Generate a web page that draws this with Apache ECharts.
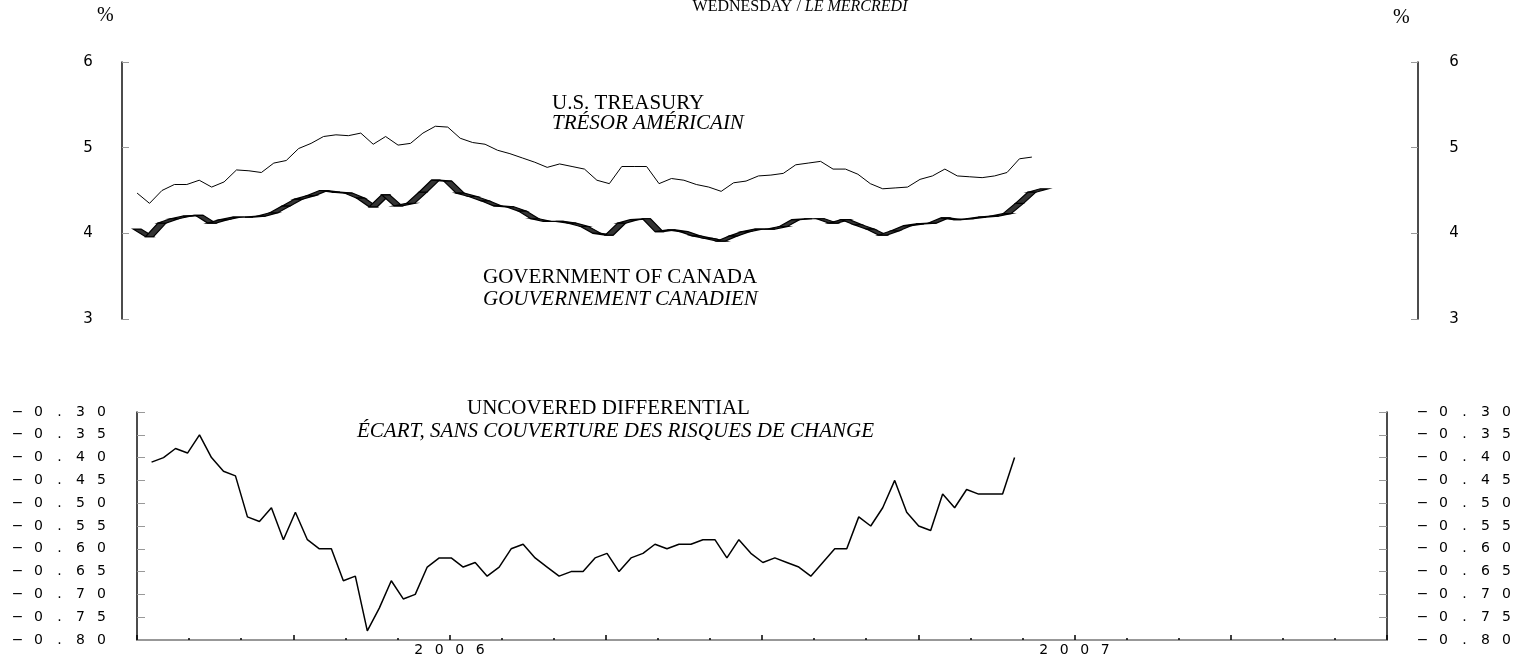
<!DOCTYPE html>
<html>
<head>
<meta charset="utf-8">
<title>U.S. Treasury / Government of Canada - Wednesday</title>
<script src="https://cdn.jsdelivr.net/npm/echarts@6/dist/echarts.min.js"></script>
<style>
  html, body { margin: 0; padding: 0; background: #fff; }
  #chart { width: 1534px; height: 657px; }
</style>
</head>
<body>
<div id="chart"></div>
<script>
  // weekly observations
  const firstWeek = '2005-07-11';

  const usTreasury = [4.47, 4.35, 4.50, 4.57, 4.57, 4.62, 4.54, 4.60, 4.74, 4.73,
    4.71, 4.82, 4.85, 4.99, 5.05, 5.13, 5.15, 5.14, 5.17, 5.04,
    5.13, 5.03, 5.05, 5.17, 5.25, 5.24, 5.11, 5.06, 5.04, 4.97,
    4.93, 4.88, 4.83, 4.77, 4.81, 4.78, 4.75, 4.62, 4.58, 4.78,
    4.78, 4.78, 4.58, 4.64, 4.62, 4.57, 4.54, 4.49, 4.59, 4.61,
    4.67, 4.68, 4.70, 4.80, 4.82, 4.84, 4.75, 4.75, 4.69, 4.58,
    4.52, 4.53, 4.54, 4.63, 4.67, 4.75, 4.67, 4.66, 4.65, 4.67,
    4.71, 4.87, 4.89];

  const govCanada = [4.05, 3.96, 4.12, 4.17, 4.20, 4.21, 4.12, 4.16, 4.19, 4.19,
    4.20, 4.24, 4.32, 4.40, 4.44, 4.50, 4.48, 4.47, 4.41, 4.31,
    4.45, 4.32, 4.35, 4.48, 4.62, 4.61, 4.47, 4.43, 4.38, 4.32,
    4.31, 4.26, 4.17, 4.14, 4.14, 4.12, 4.08, 4.00, 3.98, 4.12,
    4.16, 4.17, 4.02, 4.04, 4.02, 3.97, 3.94, 3.91, 3.97, 4.02,
    4.05, 4.05, 4.08, 4.16, 4.17, 4.17, 4.12, 4.16, 4.10, 4.05,
    3.98, 4.03, 4.09, 4.11, 4.12, 4.18, 4.16, 4.17, 4.19, 4.20,
    4.23, 4.35, 4.48, 4.52];

  const uncoveredDiff = [-0.41, -0.40, -0.38, -0.39, -0.35, -0.40, -0.43, -0.44, -0.53, -0.54,
    -0.51, -0.58, -0.52, -0.58, -0.60, -0.60, -0.67, -0.66, -0.78, -0.73,
    -0.67, -0.71, -0.70, -0.64, -0.62, -0.62, -0.64, -0.63, -0.66, -0.64,
    -0.60, -0.59, -0.62, -0.64, -0.66, -0.65, -0.65, -0.62, -0.61, -0.65,
    -0.62, -0.61, -0.59, -0.60, -0.59, -0.59, -0.58, -0.58, -0.62, -0.58,
    -0.61, -0.63, -0.62, -0.63, -0.64, -0.66, -0.63, -0.60, -0.60, -0.53,
    -0.55, -0.51, -0.45, -0.52, -0.55, -0.56, -0.48, -0.51, -0.47, -0.48,
    -0.48, -0.48, -0.40];

  const yearLabels = ['2006', '2007'];

  // week i -> decimal year
  function weekX(i) {
    const d = Date.parse(firstWeek) + i * 7 * 864e5;
    const y = new Date(d).getUTCFullYear();
    const s = Date.UTC(y, 0, 1), e = Date.UTC(y + 1, 0, 1);
    return y + (d - s) / (e - s);
  }

  // plotter look: every character in its own wide box
  function spaced(txt) {
    return txt.split('').map(c => '{c|' + c + '}').join('');
  }
  const wide = { c: { width: 21, align: 'center', fontSize: 14, fontFamily: 'DejaVu Sans', color: '#000' } };
  const wideX = { c: { width: 20.5, align: 'center', fontSize: 14, fontFamily: 'DejaVu Sans', color: '#000' } };
  const wideTop = { c: { width: 18, align: 'center', fontSize: 15, fontFamily: 'DejaVu Sans', color: '#000' } };

  const chart = echarts.init(document.getElementById('chart'));

  function rateAxis(pos) {
    return {
      type: 'value', gridIndex: 0, position: pos, min: 3, max: 6, interval: 1,
      axisLine: { show: true, lineStyle: { color: '#111', width: 1.5 } },
      axisTick: { show: true, inside: true, length: 7, lineStyle: { color: '#999' } },
      axisLabel: { margin: pos === 'left' ? 25 : 27, formatter: v => spaced(String(v)), rich: wideTop },
      splitLine: { show: false }
    };
  }
  function diffAxis(pos) {
    return {
      type: 'value', gridIndex: 1, position: pos, min: -0.8, max: -0.3, interval: 0.05,
      axisLine: { show: true, lineStyle: { color: '#111', width: 1.5 } },
      axisTick: { show: true, inside: true, length: 8, lineStyle: { color: '#999' } },
      axisLabel: { margin: 25, formatter: v => spaced('−' + Math.abs(v).toFixed(2)), rich: wide },
      splitLine: { show: false }
    };
  }

  const serif = '"Liberation Serif", "Times New Roman", serif';

  chart.setOption({
    animation: false,
    backgroundColor: '#fff',
    grid: [
      { left: 122, top: 62, width: 1296, height: 257 },
      { left: 137, top: 412, width: 1250, height: 228 }
    ],
    xAxis: [
      { type: 'value', gridIndex: 0, min: 2005.5, max: 2007.5, show: false },
      {
        type: 'value', gridIndex: 1, min: 2005.5, max: 2007.5, interval: 0.25,
        axisLine: { lineStyle: { color: '#777', width: 1.5 } },
        axisTick: { show: true, inside: true, length: 5, lineStyle: { color: '#000', width: 1.5 } },
        minorTick: { show: true, splitNumber: 3, length: 2, lineStyle: { color: '#000', width: 1.5 } },
        axisLabel: {
          margin: 3,
          formatter: v => {
            const s = String(Math.round(v));
            return Math.abs(v - Math.round(v)) < 1e-6 && yearLabels.includes(s) ? spaced(s) : '';
          },
          rich: wideX
        },
        splitLine: { show: false }
      }
    ],
    yAxis: [rateAxis('left'), rateAxis('right'), diffAxis('left'), diffAxis('right')],
    series: [
      {
        name: 'U.S. Treasury', type: 'line', xAxisIndex: 0, yAxisIndex: 0,
        data: usTreasury.map((v, i) => [weekX(i), v]),
        symbol: 'none', lineStyle: { color: '#000', width: 1 }
      },
      {
        // broad-nib pen stroke
        name: 'Government of Canada', type: 'custom', xAxisIndex: 0, yAxisIndex: 0,
        data: govCanada.map((v, i) => [weekX(i), v]),
        encode: { x: 0, y: 1 },
        renderItem: (params, api) => {
          const i = params.dataIndex;
          if (i >= govCanada.length - 1) return null;
          const p0 = api.coord([weekX(i), govCanada[i]]);
          const p1 = api.coord([weekX(i + 1), govCanada[i + 1]]);
          const h = 4;
          return {
            type: 'polygon',
            shape: { points: [[p0[0] - h, p0[1]], [p1[0] - h, p1[1]], [p1[0] + h, p1[1]], [p0[0] + h, p0[1]]] },
            style: { fill: '#333', stroke: '#000', lineWidth: 1.2 }
          };
        }
      },
      {
        name: 'Uncovered differential', type: 'line', xAxisIndex: 1, yAxisIndex: 2,
        data: uncoveredDiff.map((v, i) => [weekX(i), v]),
        symbol: 'none', lineStyle: { color: '#000', width: 1.5 }
      }
    ],
    graphic: [
      {
        type: 'text', x: 800, y: 7,
        style: {
          text: '{n|WEDNESDAY / }{i|LE MERCREDI}', textAlign: 'center', textVerticalAlign: 'middle',
          rich: { n: { font: '16px ' + serif, fill: '#000' }, i: { font: 'italic 16px ' + serif, fill: '#000' } }
        }
      },
      { type: 'text', x: 97, y: 16, style: { text: '%', font: '20px ' + serif, fill: '#000', textVerticalAlign: 'middle' } },
      { type: 'text', x: 1393, y: 18, style: { text: '%', font: '20px ' + serif, fill: '#000', textVerticalAlign: 'middle' } },
      { type: 'text', x: 552, y: 103, style: { text: 'U.S. TREASURY', font: '21px ' + serif, fill: '#000', textVerticalAlign: 'middle' } },
      { type: 'text', x: 552, y: 123, style: { text: 'TRÉSOR AMÉRICAIN', font: 'italic 21px ' + serif, fill: '#000', textVerticalAlign: 'middle' } },
      { type: 'text', x: 483, y: 277, style: { text: 'GOVERNMENT OF CANADA', font: '21px ' + serif, fill: '#000', textVerticalAlign: 'middle' } },
      { type: 'text', x: 483, y: 299, style: { text: 'GOUVERNEMENT CANADIEN', font: 'italic 21px ' + serif, fill: '#000', textVerticalAlign: 'middle' } },
      { type: 'text', x: 467, y: 408, style: { text: 'UNCOVERED DIFFERENTIAL', font: '21px ' + serif, fill: '#000', textVerticalAlign: 'middle' } },
      { type: 'text', x: 357, y: 431, style: { text: 'ÉCART, SANS COUVERTURE DES RISQUES DE CHANGE', font: 'italic 21px ' + serif, fill: '#000', textVerticalAlign: 'middle' } }
    ]
  });
</script>
</body>
</html>
